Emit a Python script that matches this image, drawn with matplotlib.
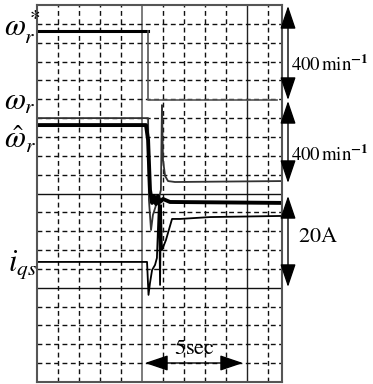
import matplotlib
matplotlib.use('Agg')
import matplotlib.pyplot as plt

plt.rcParams['font.family'] = ['Liberation Serif', 'DejaVu Serif']
plt.rcParams['mathtext.fontset'] = 'stix'

# traces (units = grid divisions, x: time, y: level)
wref_x = [0, 5.29]
wref_y = [18.62, 18.62]
wref2_x = [5.29, 5.29, 11.43]
wref2_y = [18.62, 14.96, 14.96]

wr_x = [0, 5.29, 5.33, 5.43, 5.52, 5.67, 5.81, 5.90, 5.95, 6.00, 6.10, 6.24, 6.57, 11.71]
wr_y = [14.0, 14.0, 9.66, 8.06, 8.86, 9.39, 9.76, 10.19, 14.69, 11.78, 10.93, 10.66, 10.61, 10.66]

west_x = [0, 5.19, 5.29, 5.38, 5.48, 5.57, 5.67, 5.76, 5.86, 6.00, 6.33, 11.71]
west_y = [13.63, 13.63, 12.84, 10.19, 9.50, 9.87, 9.44, 9.87, 9.55, 9.71, 9.55, 9.50]

iqs_x = [0, 5.24, 5.31, 5.38, 5.48, 5.62, 5.71, 5.81, 5.86, 5.90, 5.95, 6.14, 6.43, 6.81, 8.24, 11.71]
iqs_y = [6.37, 6.37, 4.62, 5.25, 5.94, 6.21, 6.58, 9.66, 5.15, 9.39, 7.0, 7.53, 8.65, 8.65, 8.75, 8.81]

W, H = 373, 384
fig = plt.figure(figsize=(W / 100, H / 100), dpi=100)
ax = fig.add_axes([37 / W, 2 / H, 245 / W, 377 / H])
ax.set_xlim(0, 245 / 21)
ax.set_ylim(0, 20)
ax.set_xticks([])
ax.set_yticks([])
for s in ax.spines.values():
    s.set_color('#555555')
    s.set_linewidth(1.5)

# grid
for k in range(1, 12):
    if k == 5:
        ax.axvline(k, color='#666666', lw=1.2)
    elif k == 10:
        ax.axvline(k, color='#222222', lw=1.0)
    else:
        ax.axvline(k, color='#111111', lw=1.0, ls=(0, (3.5, 2.5)))
for k in range(1, 20):
    if k in (5, 10):
        ax.axhline(k, color='#111111', lw=1.0)
    else:
        ax.axhline(k, color='#111111', lw=1.0, ls=(0, (3.5, 2.5)))

# traces
ax.plot(wref_x, wref_y, color='black', lw=2.2)
ax.plot(wref2_x, wref2_y, color='#555555', lw=1.2)
ax.plot(wr_x, wr_y, color='#333333', lw=1.3)
ax.plot(west_x, west_y, color='black', lw=2.8)
ax.plot(iqs_x, iqs_y, color='black', lw=1.3)


def px(x, y):
    return x / W, 1 - y / H


# left labels
fig.text(*px(4, 27), r'$\omega_r^*$', fontsize=22, va='center', ha='left')
fig.text(*px(4, 102), r'$\omega_r$', fontsize=22, va='center', ha='left')
fig.text(*px(4, 140), r'$\hat{\omega}_r$', fontsize=22, va='center', ha='left')
fig.text(*px(8, 265), r'$i_{qs}$', fontsize=22, va='center', ha='left')

# right scale arrows
arrow = dict(arrowstyle='<|-|>,head_length=0.65,head_width=0.22', color='black', lw=1.0,
             mutation_scale=22, shrinkA=0, shrinkB=0)
for y0, y1 in [(6, 100), (101, 183), (196, 287)]:
    fig.add_artist(matplotlib.patches.FancyArrowPatch(px(288, y0), px(288, y1),
                                                      transform=fig.transFigure, **arrow))

scale_lbl = r'$\mathrm{400\,min}^{\mathbf{-1}}$'
for yc in (65, 155):
    fig.text(*px(291, yc), scale_lbl, fontsize=13.5, va='center', ha='left')
fig.text(*px(298, 238), r'$\mathrm{20A}$', fontsize=16, va='center', ha='left')

# time scale
fig.add_artist(matplotlib.patches.FancyArrowPatch(px(145, 363), px(243, 363),
                                                  transform=fig.transFigure, **arrow))
fig.text(*px(194, 349), r'$\mathrm{5sec}$', fontsize=16, va='center', ha='center')

fig.savefig('out.png', dpi=100)
